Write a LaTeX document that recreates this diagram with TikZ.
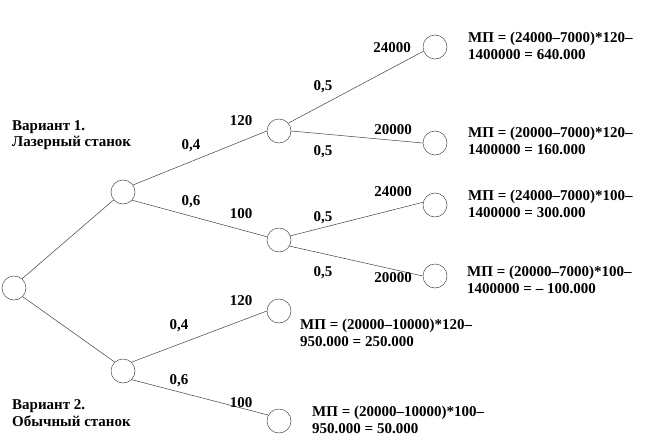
\documentclass[tikz,border=0pt]{standalone}
\usepackage{fontspec}
\setmainfont{Liberation Serif}
\begin{document}
\begin{tikzpicture}[x=1pt,y=-1pt,
  st/.style={circle,draw=black!70,line width=0.5pt,minimum size=24pt,inner sep=0pt},
  br/.style={draw=black!75,line width=0.5pt},
  lb/.style={inner sep=0pt,font=\fontsize{15}{16}\selectfont\bfseries},
  tx/.style={inner sep=0pt,anchor=west,align=left,font=\fontsize{15}{16.5}\selectfont\bfseries}]
\useasboundingbox (0,0) rectangle (666,447);
% nodes
\node[st] (r) at (14,288) {};
\node[st] (d1) at (123,192) {};
\node[st] (d2) at (123,371) {};
\node[st] (a) at (279,131) {};
\node[st] (b) at (279,240) {};
\node[st] (l1) at (435,47) {};
\node[st] (l2) at (435,143) {};
\node[st] (l3) at (435,205) {};
\node[st] (l4) at (435,276) {};
\node[st] (e) at (279,311) {};
\node[st] (f) at (279,421) {};
% branches
\draw[br] (r.49) -- (d1.220);
\draw[br] (r.-45) -- (d2.133);
\draw[br] (d1.35) -- (a.180);
\draw[br] (d1.-42) -- (b.165);
\draw[br] (d2.46) -- (e.180);
\draw[br] (d2.-45) -- (f.151);
\draw[br] (a.40) -- (l1.200);
\draw[br] (a.0) -- (l2.180);
\draw[br] (b.20) -- (l3.167);
\draw[br] (b.-30) -- (l4.180);
% labels
\node[lb] (t1) at (241,121) {120};
\node[lb] (t2) at (191,146) {0,4};
\node[lb] (t3) at (191,202) {0,6};
\node[lb] (t4) at (241,214) {100};
\node[lb] (t5) at (323,87) {0,5};
\node[lb] (t6) at (392,48) {24000};
\node[lb] (t7) at (393,130) {20000};
\node[lb] (t8) at (323,152) {0,5};
\node[lb] (t9) at (393,192) {24000};
\node[lb] (t10) at (323,218) {0,5};
\node[lb] (t11) at (323,273) {0,5};
\node[lb] (t12) at (393,278) {20000};
\node[lb] (t13) at (241,301) {120};
\node[lb] (t14) at (179,326) {0,4};
\node[lb] (t15) at (179,381) {0,6};
\node[lb] (t16) at (241,403) {100};
% text blocks
\node[tx] (ta) at (468,46) {МП = (24000–7000)*120–\\1400000 = 640.000};
\node[tx] (tb) at (468,141) {МП = (20000–7000)*120–\\1400000 = 160.000};
\node[tx] (tc) at (468,204) {МП = (24000–7000)*100–\\1400000 = 300.000};
\node[tx] (td) at (467,280) {МП = (20000–7000)*100–\\1400000 = – 100.000};
\node[tx] (te) at (300,333) {МП = (20000–10000)*120–\\950.000 = 250.000};
\node[tx] (tf) at (312,420) {МП = (20000–10000)*100–\\950.000 = 50.000};
\node[tx] (v1) at (12,135) {Вариант 1.\\Лазерный станок};
\node[tx] (v2) at (12,413) {Вариант 2.\\Обычный станок};
\end{tikzpicture}
\end{document}
